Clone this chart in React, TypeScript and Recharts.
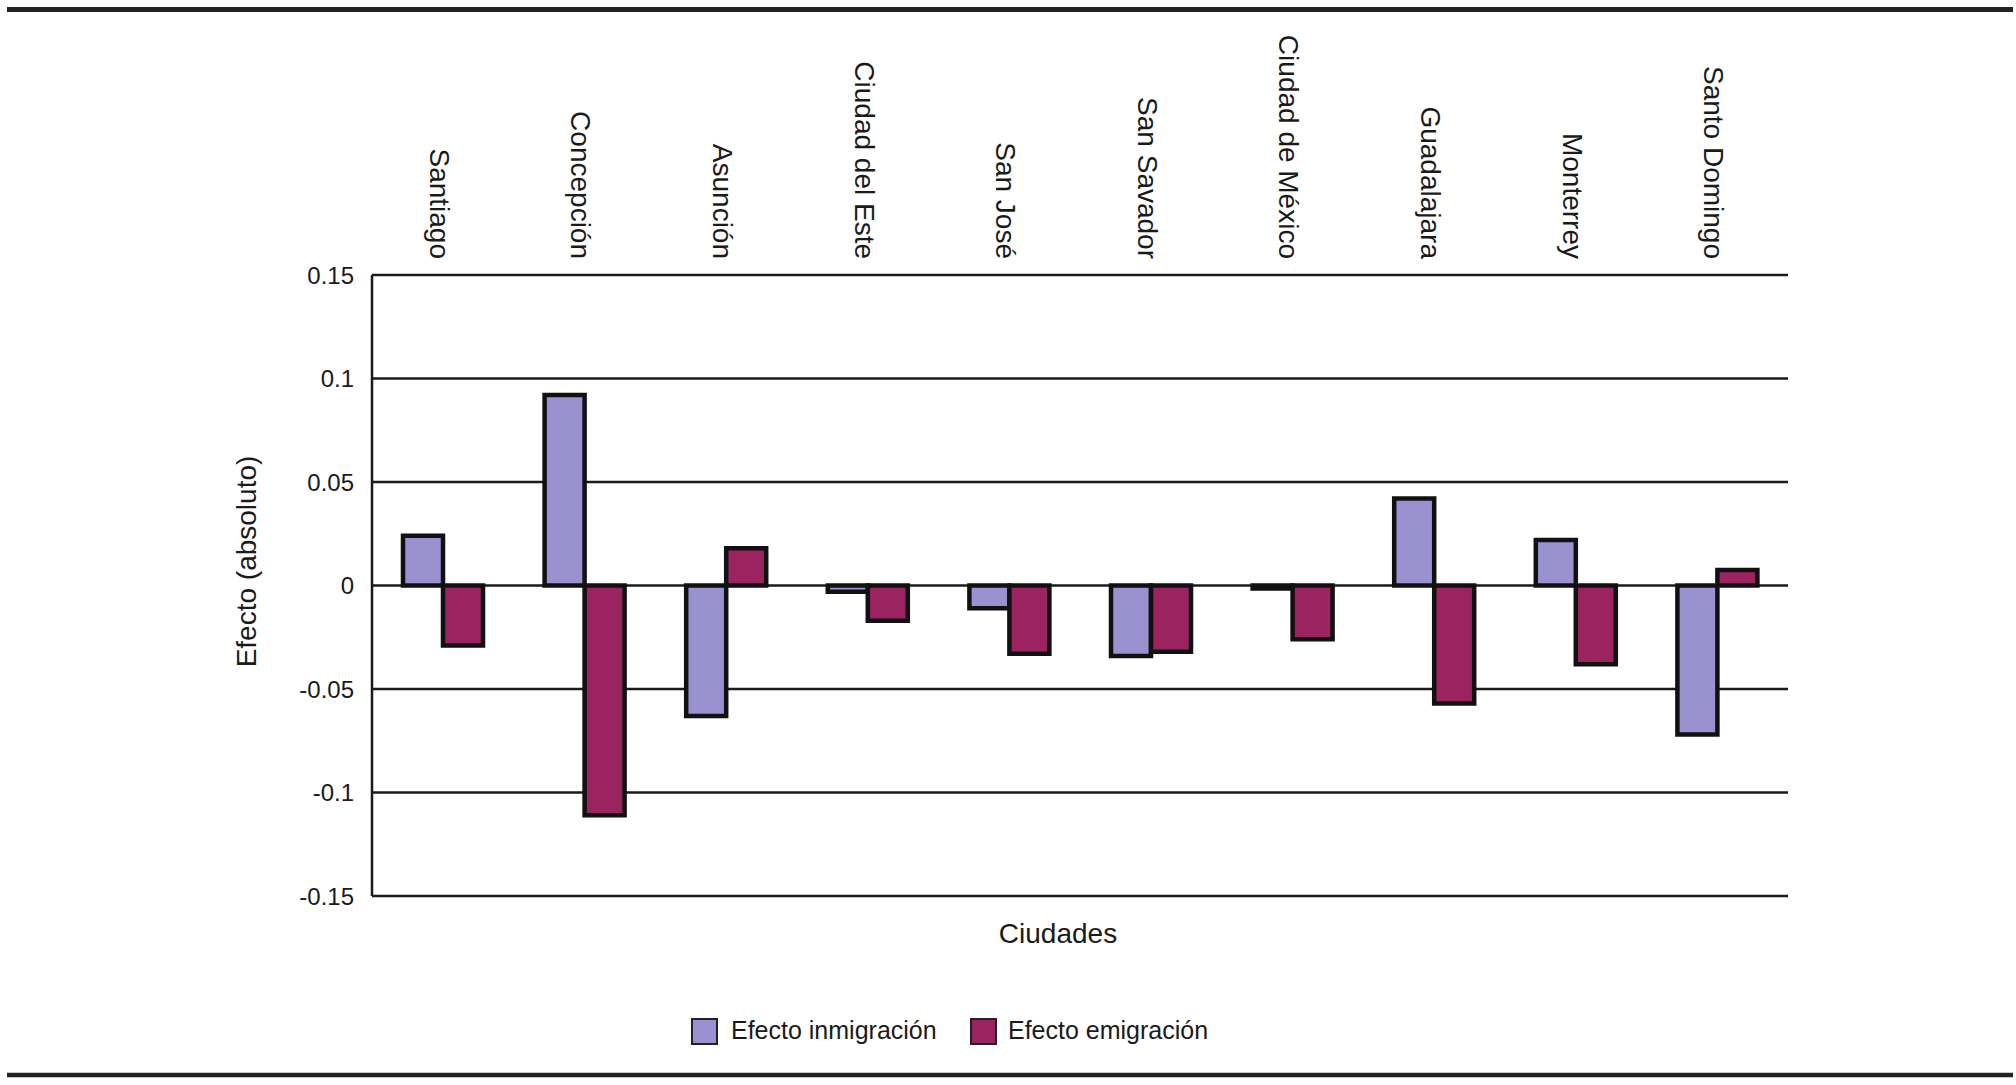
import React from 'react';
import { BarChart, Bar, XAxis, YAxis, CartesianGrid } from 'recharts';

const cities = [
  'Santiago',
  'Concepción',
  'Asunción',
  'Ciudad del Este',
  'San José',
  'San Savador',
  'Ciudad de México',
  'Guadalajara',
  'Monterrey',
  'Santo Domingo',
];
const inmigracion = [0.024, 0.092, -0.063, -0.003, -0.011, -0.034, -0.0015, 0.042, 0.022, -0.072];
const emigracion = [-0.029, -0.111, 0.018, -0.017, -0.033, -0.032, -0.026, -0.057, -0.038, 0.0075];
const yTicks = [-0.15, -0.1, -0.05, 0, 0.05, 0.1, 0.15];
const seriesNames = ['Efecto inmigración', 'Efecto emigración'];
const seriesColors = ['#9A91D0', '#9B2360'];

const data = cities.map((c, i) => ({ city: c, inm: inmigracion[i], emi: emigracion[i] }));

const FONT = '"Liberation Sans", Arial, Helvetica, sans-serif';
const INK = '#1a1a1a';

const CityTick = (props: any) => {
  const { x, y, payload } = props;
  return (
    <text
      x={x}
      y={y}
      dy={13}
      transform={`rotate(90, ${x}, ${y})`}
      textAnchor="end"
      fontSize={28}
      fontFamily={FONT}
      fill={INK}
    >
      {payload.value}
    </text>
  );
};

const YLabel = (props: any) => {
  const vb = props.viewBox || { x: 0, y: 275, width: 372, height: 621 };
  const x = vb.x + 249;
  const y = vb.y + vb.height / 2 - 24;
  return (
    <text
      x={x}
      y={y}
      dy={7}
      transform={`rotate(-90, ${x}, ${y})`}
      textAnchor="middle"
      fontSize={28}
      fontFamily={FONT}
      fill={INK}
    >
      Efecto (absoluto)
    </text>
  );
};

export default function App() {
  return (
    <div style={{ position: 'absolute', left: 0, top: 0, width: 2016, height: 1085, background: '#fff' }}>
      <BarChart
        width={2016}
        height={1085}
        data={data}
        margin={{ top: 0, right: 228, bottom: 189, left: 0 }}
        barGap={0}
      >
        <CartesianGrid vertical={false} stroke={INK} strokeWidth={2.5} />
        <XAxis
          dataKey="city"
          orientation="top"
          height={275}
          axisLine={false}
          tickLine={false}
          tickSize={0}
          tickMargin={16}
          interval={0}
          tick={<CityTick />}
        />
        <YAxis
          width={372}
          domain={[-0.15, 0.15]}
          ticks={yTicks}
          interval={0}
          axisLine={{ stroke: INK, strokeWidth: 2.5 }}
          tickLine={false}
          tickSize={0}
          tickMargin={18}
          tick={{ fontSize: 24, fontFamily: FONT, fill: INK }}
          label={<YLabel />}
        />
        <Bar dataKey="inm" name={seriesNames[0]} fill={seriesColors[0]} stroke="#111" strokeWidth={4.5} barSize={40} isAnimationActive={false} />
        <Bar dataKey="emi" name={seriesNames[1]} fill={seriesColors[1]} stroke="#111" strokeWidth={4.5} barSize={40} isAnimationActive={false} />
      </BarChart>
      <svg
        width={2016}
        height={1085}
        style={{ position: 'absolute', left: 0, top: 0, pointerEvents: 'none' }}
      >
        <line x1={7} x2={2013} y1={9.5} y2={9.5} stroke="#222" strokeWidth={5} />
        <line x1={7} x2={2013} y1={1075} y2={1075} stroke="#222" strokeWidth={4.5} />
        <text x={1058} y={943} textAnchor="middle" fontSize={28} fontFamily={FONT} fill={INK}>
          Ciudades
        </text>
        <rect x={692} y={1019} width={25} height={25} fill={seriesColors[0]} stroke="#222" strokeWidth={2} />
        <text x={731} y={1039} fontSize={25} fontFamily={FONT} fill={INK}>
          {seriesNames[0]}
        </text>
        <rect x={971} y={1019} width={25} height={25} fill={seriesColors[1]} stroke="#222" strokeWidth={2} />
        <text x={1008} y={1039} fontSize={25} fontFamily={FONT} fill={INK}>
          {seriesNames[1]}
        </text>
      </svg>
    </div>
  );
}
